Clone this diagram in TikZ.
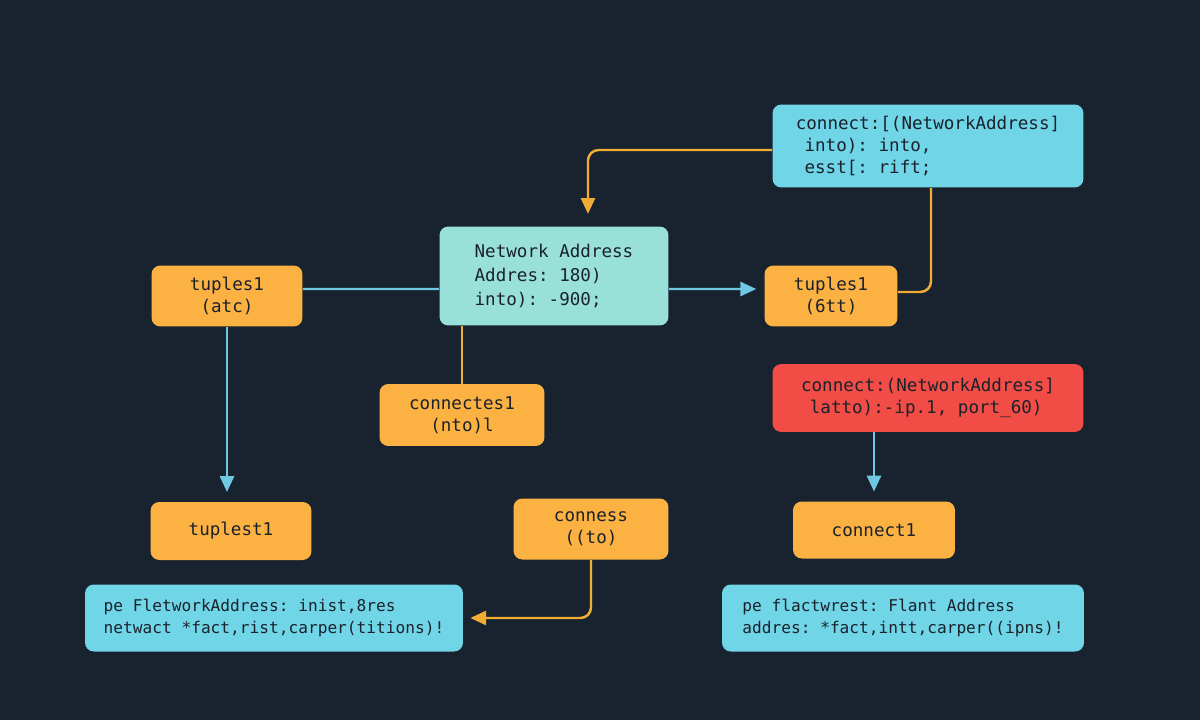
\documentclass[tikz,border=0pt]{standalone}
\usepackage{fontspec}
\setmonofont{DejaVu Sans Mono}
\usetikzlibrary{positioning, arrows.meta}
\definecolor{ndBack}{RGB}{24,35,47}
\definecolor{ndCyan}{RGB}{112,213,231}
\definecolor{ndTeal}{RGB}{153,224,216}
\definecolor{ndOrange}{RGB}{251,178,66}
\definecolor{ndRed}{RGB}{241,76,69}
\definecolor{ndInk}{RGB}{26,34,44}
\definecolor{ndBlueLine}{RGB}{110,200,226}
\definecolor{ndOrangeLine}{RGB}{240,172,52}

\begin{document}
\begin{tikzpicture}[x=0.02cm, y=-0.02cm,
    box/.style={rounded corners=5pt, inner sep=0pt, text=ndInk, align=left,
      font=\ttfamily\fontsize{10}{12.6}\selectfont},
    codebox/.style={box, fill=ndCyan},
    notebox/.style={codebox, font=\ttfamily\fontsize{9.2}{12.6}\selectfont},
    tuplebox/.style={box, fill=ndOrange, align=center},
    blueline/.style={draw=ndBlueLine, line width=1.4pt},
    orangeline/.style={draw=ndOrangeLine, line width=1.4pt, rounded corners=6pt},
    tip/.style={-{Triangle[length=9pt, width=8pt]}}]

    \fill[ndBack] (0,0) rectangle (1200,720);

    \node[codebox, minimum width=6.22cm, minimum height=1.66cm] (connTop) at (928,146)
      {connect:[(NetworkAddress]\\\hspace*{0.5em}into): into,\\\hspace*{0.5em}esst[: rift;};
    \node[box, fill=ndTeal, minimum width=4.58cm, minimum height=1.98cm,
      font=\ttfamily\fontsize{10}{13.6}\selectfont] (netAddr) at (554,276)
      {Network Address\\Addres: 180)\\into): -900;};
    \node[tuplebox, minimum width=3.02cm, minimum height=1.22cm] (tupLeft) at (227,296)
      {tuples1\\(atc)};
    \node[tuplebox, minimum width=2.66cm, minimum height=1.22cm] (tupRight) at (831,296)
      {tuples1\\(6tt)};
    \node[tuplebox, minimum width=3.3cm, minimum height=1.24cm] (connMid) at (462,415)
      {connectes1\\(nto)l};
    \node[box, fill=ndRed, minimum width=6.22cm, minimum height=1.36cm] (connErr) at (928,398)
      {connect:(NetworkAddress]\\\hspace*{0.5em}latto):-ip.1, port\_60)};
    \node[tuplebox, minimum width=3.22cm, minimum height=1.16cm] (tupDown) at (231,531)
      {tuplest1};
    \node[tuplebox, minimum width=3.1cm, minimum height=1.22cm] (connLow) at (591,529)
      {conness\\((to)};
    \node[tuplebox, minimum width=3.24cm, minimum height=1.14cm] (connOut) at (874,530)
      {connect1};
    \node[notebox, minimum width=7.56cm, minimum height=1.34cm] (noteLeft) at (274,618)
      {pe FletworkAddress: inist,8res\\netwact *fact,rist,carper(titions)!};
    \node[notebox, minimum width=7.24cm, minimum height=1.34cm] (noteRight) at (903,618)
      {pe flactwrest: Flant Address\\addres: *fact,intt,carper((ipns)!};

    \draw[orangeline, tip, shorten >=7pt] ([yshift=-0.08cm]connTop.west) -| ([xshift=0.68cm]netAddr.north);
    \draw[blueline] ([yshift=0.14cm]tupLeft.east) -- ([yshift=-0.26cm]netAddr.west);
    \draw[blueline, tip, shorten >=4.5pt] ([yshift=-0.26cm]netAddr.east) -- ([yshift=0.14cm]tupRight.west);
    \draw[orangeline] ([yshift=0.08cm]tupRight.east) -| ([xshift=0.06cm]connTop.south);
    \draw[orangeline] (connMid.north |- netAddr.south) -- (connMid.north);
    \draw[blueline, tip, shorten >=5.5pt] (tupLeft.south) -- (tupLeft.south |- tupDown.north);
    \draw[blueline, tip, shorten >=5.5pt] (connOut.north |- connErr.south) -- (connOut.north);
    \draw[orangeline, tip, shorten >=4pt] (connLow.south) |- (noteLeft.east);
\end{tikzpicture}
\end{document}
